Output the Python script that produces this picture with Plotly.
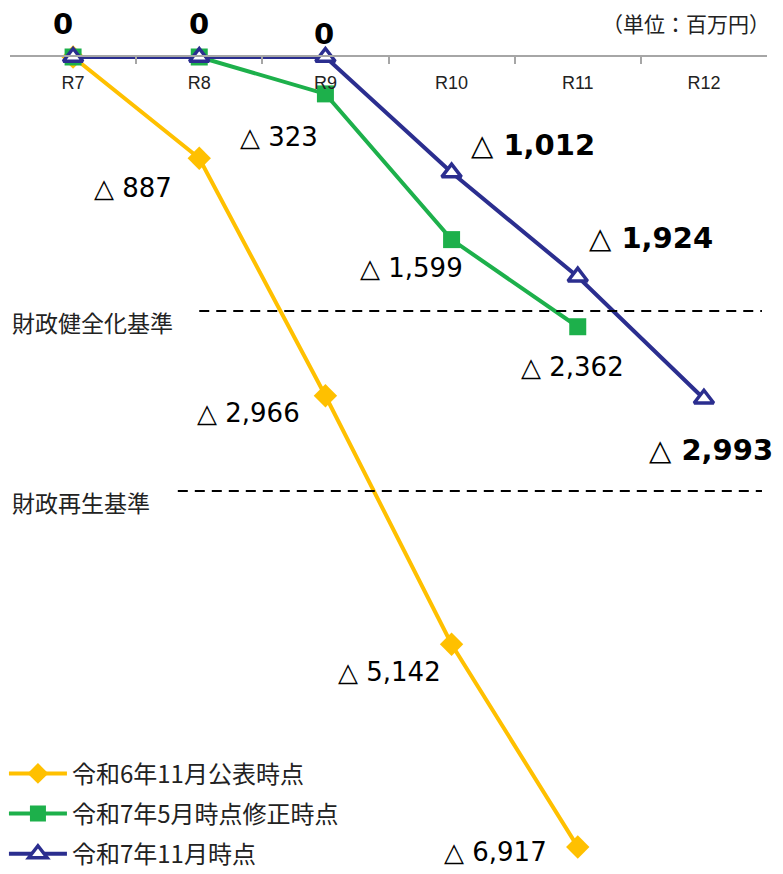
import plotly.graph_objects as go

categories = ["R7", "R8", "R9", "R10", "R11", "R12"]
series_names = ["令和6年11月公表時点", "令和7年5月時点修正時点", "令和7年11月時点"]
yellow_vals = [0, -887, -2966, -5142, -6917, None]
green_vals = [0, 0, -323, -1599, -2362, None]
blue_vals = [0, 0, 0, -1012, -1924, -2993]
kenzen_level = -2224
saisei_level = -3800
kenzen_label = "財政健全化基準"
saisei_label = "財政再生基準"
unit_label = "（単位：百万円）"

YELLOW = "#FFC000"
GREEN = "#1DB04B"
NAVY = "#2B2E8F"
FONT = "Liberation Sans, Arial, Noto Sans CJK JP, sans-serif"
LFONT = "DejaVu Sans, sans-serif"
JFONT = "Noto Sans CJK JP, sans-serif"

fig = go.Figure()
fig.add_trace(go.Scatter(x=categories, y=yellow_vals, name=series_names[0], mode="lines+markers",
                         line=dict(color=YELLOW, width=4), legendgroup="a",
                         marker=dict(symbol="diamond", size=18, color=YELLOW), cliponaxis=False))
fig.add_trace(go.Scatter(x=categories, y=green_vals, name=series_names[1], mode="lines+markers",
                         line=dict(color=GREEN, width=4), legendgroup="b",
                         marker=dict(symbol="square", size=17, color=GREEN), cliponaxis=False))
fig.add_trace(go.Scatter(x=categories, y=blue_vals, name=series_names[2], mode="lines+markers",
                         line=dict(color=NAVY, width=4), legendgroup="c",
                         marker=dict(symbol="triangle-up", size=17, color="white",
                                     line=dict(color=NAVY, width=3.5)), cliponaxis=False))

def lab(v):
    return "0" if v == 0 else "△ " + f"{abs(v):,}"

annos = []
# (series values, index, dx, dy(down positive), bold)
placements = [
    (yellow_vals, 1, -66, 30, False),
    (yellow_vals, 2, -77, 17, False),
    (yellow_vals, 3, -62, 28, False),
    (yellow_vals, 4, -82, 5, False),
    (green_vals, 2, -46, 43, False),
    (green_vals, 3, -40, 28, False),
    (green_vals, 4, -5, 40, False),
    (blue_vals, 0, -10, -33, True),
    (blue_vals, 1, 0, -33, True),
    (blue_vals, 2, -1, -23, True),
    (blue_vals, 3, 81, -28, True),
    (blue_vals, 4, 73, -39, True),
    (blue_vals, 5, 7, 51, True),
]
for vals, i, dx, dy, bold in placements:
    v = vals[i]
    t = lab(v)
    if bold:
        t = "<b>" + t + "</b>"
    annos.append(dict(x=categories[i], y=v, xref="x", yref="y", text=t, showarrow=False,
                      xshift=dx, yshift=-dy, xanchor="center", yanchor="middle",
                      font=dict(family=LFONT, size=(29 if bold else 26), color="black")))

for lvl, txt, x0 in [(kenzen_level, kenzen_label, 1.0), (saisei_level, saisei_label, 0.83)]:
    fig.add_shape(type="line", xref="x", yref="y", x0=x0, x1=5.46, y0=lvl, y1=lvl,
                  line=dict(color="black", width=2, dash="10px,7px"))
    annos.append(dict(x=0, y=lvl, xref="paper", yref="y", text=txt, showarrow=False,
                      xanchor="left", yanchor="middle", xshift=0, yshift=-11,
                      font=dict(family=JFONT, size=23, color="#222")))

annos.append(dict(x=1, y=1, xref="paper", yref="paper", text=unit_label, showarrow=False,
                  xanchor="right", yanchor="middle", xshift=5, yshift=34,
                  font=dict(family=JFONT, size=21, color="#222")))

fig.update_layout(
    width=783, height=874,
    margin=dict(l=10, r=16, t=57, b=4, autoexpand=False),
    paper_bgcolor="white", plot_bgcolor="white",
    annotations=annos,
    showlegend=True,
    legend=dict(x=-0.008, y=0.146, xanchor="left", yanchor="top", traceorder="grouped",
                tracegroupgap=6, itemwidth=58, bgcolor="rgba(0,0,0,0)",
                font=dict(family=JFONT, size=24, color="#222")),
    xaxis=dict(type="category", categoryorder="array", categoryarray=categories,
               range=[-0.5, 5.5], side="top", ticklabelposition="inside",
               showline=True, linecolor="#A6A6A6", linewidth=2,
               ticks="inside", tickson="boundaries", ticklen=7, tickcolor="#A6A6A6", tickwidth=1.5,
               ticklabelstandoff=13,
               showgrid=False, zeroline=False,
               tickfont=dict(family=FONT, size=18, color="#222")),
    yaxis=dict(range=[-7119, 0], showgrid=False, zeroline=False, showticklabels=False,
               showline=False, ticks=""),
)

fig.write_html("out.html", config={"displayModeBar": False},
               post_script="document.body.style.margin='0px';")
